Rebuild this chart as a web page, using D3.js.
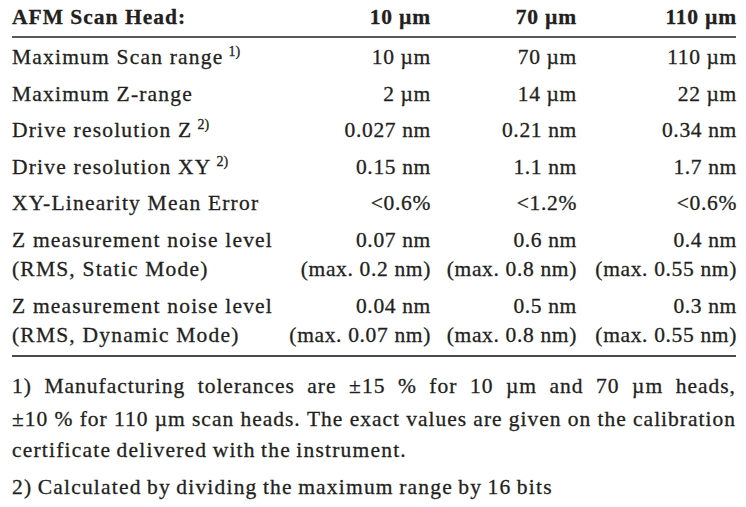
<!DOCTYPE html>
<html>
<head>
<meta charset="utf-8">
<script src="https://cdn.jsdelivr.net/npm/d3@7"></script>
<style>
  body { margin: 0; background: #fff; }
</style>
</head>
<body>
<div id="chart"></div>
<script>
// Table content
const headTitle = "AFM Scan Head:";
const heads = ["10 µm", "70 µm", "110 µm"];

const rowLabels = [
    ["Maximum Scan range"],
    ["Maximum Z-range"],
    ["Drive resolution Z"],
    ["Drive resolution XY"],
    ["XY-Linearity Mean Error"],
    ["Z measurement noise level", "(RMS, Static Mode)"],
    ["Z measurement noise level", "(RMS, Dynamic Mode)"]
];
const rowNotes = ["1)", "", "2)", "2)", "", "", ""];

const values10 = [["10 µm"], ["2 µm"], ["0.027 nm"], ["0.15 nm"], ["<0.6%"],
                  ["0.07 nm", "(max. 0.2 nm)"], ["0.04 nm", "(max. 0.07 nm)"]];
const values70 = [["70 µm"], ["14 µm"], ["0.21 nm"], ["1.1 nm"], ["<1.2%"],
                  ["0.6 nm", "(max. 0.8 nm)"], ["0.5 nm", "(max. 0.8 nm)"]];
const values110 = [["110 µm"], ["22 µm"], ["0.34 nm"], ["1.7 nm"], ["<0.6%"],
                   ["0.4 nm", "(max. 0.55 nm)"], ["0.3 nm", "(max. 0.55 nm)"]];

const footnotes = [
    { text: "1) Manufacturing tolerances are ±15 % for 10 µm and 70 µm heads,", justify: true },
    { text: "±10 % for 110 µm scan heads. The exact values are given on the calibration", justify: true },
    { text: "certificate delivered with the instrument.", justify: false },
    { text: "2) Calculated by dividing the maximum range by 16 bits", justify: false }
];

const W = 746, H = 507;
const left = 12, right = 736;
const fontSize = 21.5;
const ink = "#231f20";

const svg = d3.select("#chart").append("svg")
    .attr("width", W)
    .attr("height", H);

svg.append("rect").attr("width", W).attr("height", H).attr("fill", "#fff");

// column anchors (right edges of value columns)
const colX = d3.scaleOrdinal()
    .domain([0, 1, 2])
    .range([431, 577, right + 1]);

// vertical layout: rows step by rowStep, extra lines inside a row step by lineStep
const rowStep = 36.5, lineStep = 29.5;
const firstBase = 64;
const lineSlots = [];
let extra = 0;
rowLabels.forEach((lines, r) => {
    lines.forEach((_, k) => {
        lineSlots.push({ row: r, line: k, y: firstBase + r * rowStep + (extra + k) * lineStep });
    });
    extra += lines.length - 1;
});
const yOf = (r, k) => lineSlots.find(s => s.row === r && s.line === k).y;

// serif text, slightly emboldened like the scanned print
const txt = sel => sel
    .style("font-family", `"Liberation Serif"`)
    .attr("fill", ink)
    .attr("stroke", ink)
    .attr("stroke-width", 0.3)
    .attr("font-size", fontSize);

// header
svg.append("text")
    .call(txt)
    .attr("x", left)
    .attr("y", 24)
    .attr("font-weight", "bold")
    .style("letter-spacing", "1px")
    .text(headTitle);

svg.selectAll(".head")
    .data(heads)
    .enter().append("text")
    .attr("class", "head")
    .call(txt)
    .attr("x", (d, i) => colX(i))
    .attr("y", 24)
    .attr("text-anchor", "end")
    .attr("font-weight", "bold")
    .style("letter-spacing", "0.8px")
    .text(d => d);

// rules
svg.append("line")
    .attr("x1", left).attr("x2", right)
    .attr("y1", 37).attr("y2", 37)
    .attr("stroke", ink).attr("stroke-width", 1.3);

svg.append("line")
    .attr("x1", left).attr("x2", right)
    .attr("y1", 356).attr("y2", 356)
    .attr("stroke", "#4a4a4a").attr("stroke-width", 2);

// row labels
const labelData = [];
rowLabels.forEach((lines, r) => lines.forEach((t, k) => labelData.push({ t, r, k })));

const labels = svg.selectAll(".label")
    .data(labelData)
    .enter().append("text")
    .attr("class", "label")
    .call(txt)
    .attr("x", left)
    .attr("y", d => yOf(d.r, d.k))
    .style("letter-spacing", "1.2px");

labels.append("tspan").text(d => d.t);
labels.filter(d => d.k === 0 && rowNotes[d.r])
    .append("tspan")
    .attr("dx", 5)
    .attr("dy", -8)
    .attr("font-size", 14)
    .style("letter-spacing", "0px")
    .text(d => rowNotes[d.r]);

// values
const valueData = [];
[values10, values70, values110].forEach((col, c) => {
    col.forEach((lines, r) => lines.forEach((t, k) => valueData.push({ t, c, r, k })));
});

svg.selectAll(".value")
    .data(valueData)
    .enter().append("text")
    .attr("class", "value")
    .call(txt)
    .attr("x", d => colX(d.c))
    .attr("y", d => yOf(d.r, d.k))
    .attr("text-anchor", "end")
    .style("letter-spacing", "0.65px")
    .text(d => d.t);

// footnotes
const footY = d3.scaleOrdinal().domain([0, 1, 2, 3]).range([393, 426, 457, 494]);

footnotes.forEach((f, i) => {
    const g = svg.append("text")
        .call(txt)
        .attr("y", footY(i))
        .style("letter-spacing", f.justify ? "1px" : "1.2px");
    const words = f.text.split(" ");
    const spans = g.selectAll("tspan")
        .data(words)
        .enter().append("tspan")
        .text(d => d);
    const widths = spans.nodes().map(n => n.getComputedTextLength());
    const total = d3.sum(widths);
    const gap = f.justify ? (right - left - total) / (words.length - 1) : fontSize * 0.25;
    let x = left;
    spans.attr("x", (d, j) => {
        const px = x;
        x += widths[j] + gap;
        return px;
    });
});
</script>
</body>
</html>
